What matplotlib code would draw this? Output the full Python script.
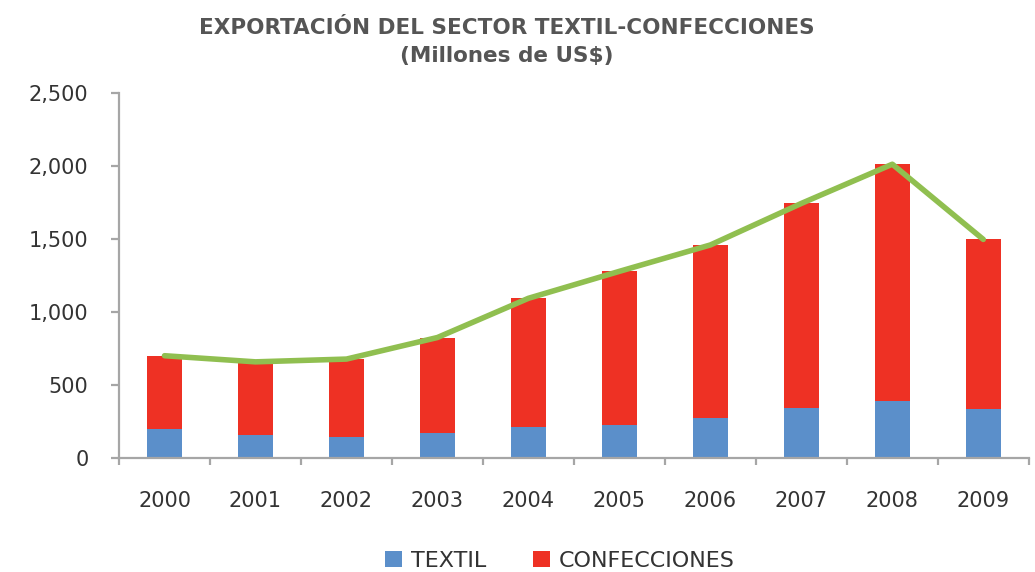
import matplotlib.pyplot as plt
import numpy as np

years = ['2000', '2001', '2002', '2003', '2004', '2005', '2006', '2007', '2008', '2009']
textil = [197, 158, 144, 167, 211, 221, 274, 340, 386, 333]
confecciones = [502, 499, 532, 657, 882, 1057, 1185, 1404, 1627, 1164]
y_ticks = [0, 500, 1000, 1500, 2000, 2500]

BLUE = '#5b8fca'
RED = '#ee3124'
GREEN = '#90bf50'
AXIS = '#a6a6a6'
TEXT = '#333333'

plt.rcParams['font.family'] = ['DejaVu Sans']

fig = plt.figure(figsize=(10.35, 5.72), dpi=100)
ax = fig.add_axes([0.115, 0.2, 0.879, 0.637])

x = np.arange(len(years))
total = np.array(textil) + np.array(confecciones)

ax.bar(x, textil, width=0.39, color=BLUE, label='TEXTIL', zorder=2)
ax.bar(x, confecciones, width=0.39, bottom=textil, color=RED,
       label='CONFECCIONES', zorder=2)
# total exports as a line across the bar tops
ax.plot(x, total, color=GREEN, linewidth=4, solid_capstyle='round', zorder=3)

ax.set_xlim(-0.5, len(years) - 0.5)
ax.set_ylim(0, 2500)
ax.set_yticks(y_ticks)
ax.set_yticklabels([f'{v:,}' for v in y_ticks])
ax.set_xticks(x)
ax.set_xticklabels(years)
ax.set_xticks(np.arange(len(years) + 1) - 0.5, minor=True)

for s in ['top', 'right']:
    ax.spines[s].set_visible(False)
for s in ['left', 'bottom']:
    ax.spines[s].set_color(AXIS)
    ax.spines[s].set_linewidth(1.6)

ax.tick_params(axis='y', length=6, width=1.6, color=AXIS, pad=16,
               labelsize=15, labelcolor=TEXT)
ax.tick_params(axis='x', which='major', length=0, pad=24,
               labelsize=15, labelcolor=TEXT)
ax.tick_params(axis='x', which='minor', length=5, width=1.6, color=AXIS)

fig.text(0.49, 0.951, 'EXPORTACIÓN DEL SECTOR TEXTIL-CONFECCIONES',
         ha='center', va='center', fontsize=15.5, fontweight='bold', color='#555555')
fig.text(0.49, 0.902, '(Millones de US$)',
         ha='center', va='center', fontsize=15.5, fontweight='bold', color='#555555')

fig.legend(loc='center', bbox_to_anchor=(0.541, 0.02), ncol=2, frameon=False,
           fontsize=16, handlelength=0.75, handleheight=0.75, handletextpad=0.4,
           columnspacing=2.1, labelcolor=TEXT)

fig.savefig('out.png', dpi=100)
